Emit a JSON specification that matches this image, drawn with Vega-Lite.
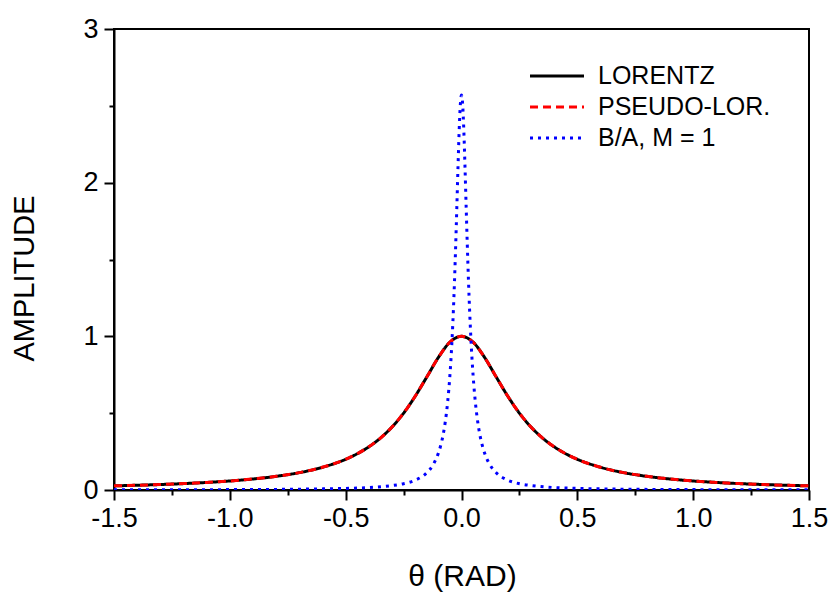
{
  "$schema": "https://vega.github.io/schema/vega-lite/v6.json",
  "width": 695,
  "height": 461,
  "autosize": {"type": "none"},
  "padding": {"left": 114, "top": 29, "right": 21, "bottom": 102},
  "background": "white",
  "config": {
    "view": {"stroke": "black", "strokeWidth": 2},
    "font": "Liberation Sans",
    "axis": {"grid": false, "domainColor": "black", "domainWidth": 2, "tickColor": "black", "tickWidth": 2, "labelColor": "black", "titleColor": "black", "labelFont": "Liberation Sans", "titleFont": "Liberation Sans", "titleFontWeight": "normal"}
  },
  "data": {"values": [
    {"x": -1.5, "y": 0.027, "s": "LORENTZ"},
    {"x": -1.4, "y": 0.0309, "s": "LORENTZ"},
    {"x": -1.3, "y": 0.0357, "s": "LORENTZ"},
    {"x": -1.2, "y": 0.0416, "s": "LORENTZ"},
    {"x": -1.1, "y": 0.0491, "s": "LORENTZ"},
    {"x": -1.0, "y": 0.0588, "s": "LORENTZ"},
    {"x": -0.9, "y": 0.0716, "s": "LORENTZ"},
    {"x": -0.8, "y": 0.089, "s": "LORENTZ"},
    {"x": -0.7, "y": 0.113, "s": "LORENTZ"},
    {"x": -0.6, "y": 0.148, "s": "LORENTZ"},
    {"x": -0.5, "y": 0.2, "s": "LORENTZ"},
    {"x": -0.45, "y": 0.236, "s": "LORENTZ"},
    {"x": -0.4, "y": 0.281, "s": "LORENTZ"},
    {"x": -0.35, "y": 0.338, "s": "LORENTZ"},
    {"x": -0.3, "y": 0.41, "s": "LORENTZ"},
    {"x": -0.25, "y": 0.5, "s": "LORENTZ"},
    {"x": -0.2, "y": 0.61, "s": "LORENTZ"},
    {"x": -0.15, "y": 0.735, "s": "LORENTZ"},
    {"x": -0.1, "y": 0.862, "s": "LORENTZ"},
    {"x": -0.05, "y": 0.962, "s": "LORENTZ"},
    {"x": 0, "y": 1.0, "s": "LORENTZ"},
    {"x": 0.05, "y": 0.962, "s": "LORENTZ"},
    {"x": 0.1, "y": 0.862, "s": "LORENTZ"},
    {"x": 0.15, "y": 0.735, "s": "LORENTZ"},
    {"x": 0.2, "y": 0.61, "s": "LORENTZ"},
    {"x": 0.25, "y": 0.5, "s": "LORENTZ"},
    {"x": 0.3, "y": 0.41, "s": "LORENTZ"},
    {"x": 0.35, "y": 0.338, "s": "LORENTZ"},
    {"x": 0.4, "y": 0.281, "s": "LORENTZ"},
    {"x": 0.45, "y": 0.236, "s": "LORENTZ"},
    {"x": 0.5, "y": 0.2, "s": "LORENTZ"},
    {"x": 0.6, "y": 0.148, "s": "LORENTZ"},
    {"x": 0.7, "y": 0.113, "s": "LORENTZ"},
    {"x": 0.8, "y": 0.089, "s": "LORENTZ"},
    {"x": 0.9, "y": 0.0716, "s": "LORENTZ"},
    {"x": 1.0, "y": 0.0588, "s": "LORENTZ"},
    {"x": 1.1, "y": 0.0491, "s": "LORENTZ"},
    {"x": 1.2, "y": 0.0416, "s": "LORENTZ"},
    {"x": 1.3, "y": 0.0357, "s": "LORENTZ"},
    {"x": 1.4, "y": 0.0309, "s": "LORENTZ"},
    {"x": 1.5, "y": 0.027, "s": "LORENTZ"},

    {"x": -1.5, "y": 0.027, "s": "PSEUDO-LOR."},
    {"x": -1.4, "y": 0.0309, "s": "PSEUDO-LOR."},
    {"x": -1.3, "y": 0.0357, "s": "PSEUDO-LOR."},
    {"x": -1.2, "y": 0.0416, "s": "PSEUDO-LOR."},
    {"x": -1.1, "y": 0.0491, "s": "PSEUDO-LOR."},
    {"x": -1.0, "y": 0.0588, "s": "PSEUDO-LOR."},
    {"x": -0.9, "y": 0.0716, "s": "PSEUDO-LOR."},
    {"x": -0.8, "y": 0.089, "s": "PSEUDO-LOR."},
    {"x": -0.7, "y": 0.113, "s": "PSEUDO-LOR."},
    {"x": -0.6, "y": 0.148, "s": "PSEUDO-LOR."},
    {"x": -0.5, "y": 0.2, "s": "PSEUDO-LOR."},
    {"x": -0.45, "y": 0.236, "s": "PSEUDO-LOR."},
    {"x": -0.4, "y": 0.281, "s": "PSEUDO-LOR."},
    {"x": -0.35, "y": 0.338, "s": "PSEUDO-LOR."},
    {"x": -0.3, "y": 0.41, "s": "PSEUDO-LOR."},
    {"x": -0.25, "y": 0.5, "s": "PSEUDO-LOR."},
    {"x": -0.2, "y": 0.61, "s": "PSEUDO-LOR."},
    {"x": -0.15, "y": 0.735, "s": "PSEUDO-LOR."},
    {"x": -0.1, "y": 0.862, "s": "PSEUDO-LOR."},
    {"x": -0.05, "y": 0.962, "s": "PSEUDO-LOR."},
    {"x": 0, "y": 1.0, "s": "PSEUDO-LOR."},
    {"x": 0.05, "y": 0.962, "s": "PSEUDO-LOR."},
    {"x": 0.1, "y": 0.862, "s": "PSEUDO-LOR."},
    {"x": 0.15, "y": 0.735, "s": "PSEUDO-LOR."},
    {"x": 0.2, "y": 0.61, "s": "PSEUDO-LOR."},
    {"x": 0.25, "y": 0.5, "s": "PSEUDO-LOR."},
    {"x": 0.3, "y": 0.41, "s": "PSEUDO-LOR."},
    {"x": 0.35, "y": 0.338, "s": "PSEUDO-LOR."},
    {"x": 0.4, "y": 0.281, "s": "PSEUDO-LOR."},
    {"x": 0.45, "y": 0.236, "s": "PSEUDO-LOR."},
    {"x": 0.5, "y": 0.2, "s": "PSEUDO-LOR."},
    {"x": 0.6, "y": 0.148, "s": "PSEUDO-LOR."},
    {"x": 0.7, "y": 0.113, "s": "PSEUDO-LOR."},
    {"x": 0.8, "y": 0.089, "s": "PSEUDO-LOR."},
    {"x": 0.9, "y": 0.0716, "s": "PSEUDO-LOR."},
    {"x": 1.0, "y": 0.0588, "s": "PSEUDO-LOR."},
    {"x": 1.1, "y": 0.0491, "s": "PSEUDO-LOR."},
    {"x": 1.2, "y": 0.0416, "s": "PSEUDO-LOR."},
    {"x": 1.3, "y": 0.0357, "s": "PSEUDO-LOR."},
    {"x": 1.4, "y": 0.0309, "s": "PSEUDO-LOR."},
    {"x": 1.5, "y": 0.027, "s": "PSEUDO-LOR."},

    {"x": -1.5, "y": 0.0012, "s": "B/A, M = 1"},
    {"x": -1.0, "y": 0.0026, "s": "B/A, M = 1"},
    {"x": -0.7, "y": 0.0054, "s": "B/A, M = 1"},
    {"x": -0.5, "y": 0.0105, "s": "B/A, M = 1"},
    {"x": -0.4, "y": 0.016, "s": "B/A, M = 1"},
    {"x": -0.3, "y": 0.029, "s": "B/A, M = 1"},
    {"x": -0.25, "y": 0.041, "s": "B/A, M = 1"},
    {"x": -0.2, "y": 0.064, "s": "B/A, M = 1"},
    {"x": -0.15, "y": 0.112, "s": "B/A, M = 1"},
    {"x": -0.12, "y": 0.171, "s": "B/A, M = 1"},
    {"x": -0.1, "y": 0.239, "s": "B/A, M = 1"},
    {"x": -0.09, "y": 0.288, "s": "B/A, M = 1"},
    {"x": -0.08, "y": 0.354, "s": "B/A, M = 1"},
    {"x": -0.07, "y": 0.444, "s": "B/A, M = 1"},
    {"x": -0.06, "y": 0.569, "s": "B/A, M = 1"},
    {"x": -0.05, "y": 0.747, "s": "B/A, M = 1"},
    {"x": -0.045, "y": 0.863, "s": "B/A, M = 1"},
    {"x": -0.04, "y": 1.003, "s": "B/A, M = 1"},
    {"x": -0.035, "y": 1.17, "s": "B/A, M = 1"},
    {"x": -0.03, "y": 1.368, "s": "B/A, M = 1"},
    {"x": -0.025, "y": 1.596, "s": "B/A, M = 1"},
    {"x": -0.02, "y": 1.848, "s": "B/A, M = 1"},
    {"x": -0.015, "y": 2.107, "s": "B/A, M = 1"},
    {"x": -0.01, "y": 2.341, "s": "B/A, M = 1"},
    {"x": -0.005, "y": 2.509, "s": "B/A, M = 1"},
    {"x": 0, "y": 2.57, "s": "B/A, M = 1"},
    {"x": 0.005, "y": 2.509, "s": "B/A, M = 1"},
    {"x": 0.01, "y": 2.341, "s": "B/A, M = 1"},
    {"x": 0.015, "y": 2.107, "s": "B/A, M = 1"},
    {"x": 0.02, "y": 1.848, "s": "B/A, M = 1"},
    {"x": 0.025, "y": 1.596, "s": "B/A, M = 1"},
    {"x": 0.03, "y": 1.368, "s": "B/A, M = 1"},
    {"x": 0.035, "y": 1.17, "s": "B/A, M = 1"},
    {"x": 0.04, "y": 1.003, "s": "B/A, M = 1"},
    {"x": 0.045, "y": 0.863, "s": "B/A, M = 1"},
    {"x": 0.05, "y": 0.747, "s": "B/A, M = 1"},
    {"x": 0.06, "y": 0.569, "s": "B/A, M = 1"},
    {"x": 0.07, "y": 0.444, "s": "B/A, M = 1"},
    {"x": 0.08, "y": 0.354, "s": "B/A, M = 1"},
    {"x": 0.09, "y": 0.288, "s": "B/A, M = 1"},
    {"x": 0.1, "y": 0.239, "s": "B/A, M = 1"},
    {"x": 0.12, "y": 0.171, "s": "B/A, M = 1"},
    {"x": 0.15, "y": 0.112, "s": "B/A, M = 1"},
    {"x": 0.2, "y": 0.064, "s": "B/A, M = 1"},
    {"x": 0.25, "y": 0.041, "s": "B/A, M = 1"},
    {"x": 0.3, "y": 0.029, "s": "B/A, M = 1"},
    {"x": 0.4, "y": 0.016, "s": "B/A, M = 1"},
    {"x": 0.5, "y": 0.0105, "s": "B/A, M = 1"},
    {"x": 0.7, "y": 0.0054, "s": "B/A, M = 1"},
    {"x": 1.0, "y": 0.0026, "s": "B/A, M = 1"},
    {"x": 1.5, "y": 0.0012, "s": "B/A, M = 1"}
  ]},
  "mark": {"type": "line", "strokeWidth": 3, "interpolate": "monotone", "clip": true},
  "encoding": {
    "x": {
      "field": "x", "type": "quantitative",
      "scale": {"domain": [-1.5, 1.5], "nice": false, "zero": false},
      "axis": {
        "title": "θ (RAD)",
        "values": [-1.5, -1.25, -1.0, -0.75, -0.5, -0.25, 0, 0.25, 0.5, 0.75, 1.0, 1.25, 1.5],
        "labelExpr": "abs(datum.value*2 - round(datum.value*2)) > 0.01 ? '' : replace(format(datum.value, '.1f'), '−', '-')",
        "tickSize": {"condition": {"test": "abs(datum.value*2 - round(datum.value*2)) > 0.01", "value": 5}, "value": 10},
        "labelFlush": false,
        "labelOverlap": false,
        "labelFontSize": 27,
        "labelPadding": 5,
        "titleFontSize": 30,
        "titleX": 348,
        "titleY": 95,
        "titleBaseline": "alphabetic"
      }
    },
    "y": {
      "field": "y", "type": "quantitative",
      "scale": {"domain": [0, 3], "nice": false},
      "axis": {
        "title": "AMPLITUDE",
        "values": [0, 0.5, 1, 1.5, 2, 2.5, 3],
        "labelExpr": "datum.value % 1 != 0 ? '' : format(datum.value, 'd')",
        "tickSize": {"condition": {"test": "datum.value % 1 != 0", "value": 5}, "value": 10},
        "labelOverlap": false,
        "labelFontSize": 27,
        "labelPadding": 6,
        "titleFontSize": 29,
        "titleAngle": 270,
        "titleX": -90,
        "titleY": 249,
        "titleBaseline": "middle",
        "titleAlign": "center"
      }
    },
    "color": {
      "field": "s", "type": "nominal",
      "scale": {"domain": ["LORENTZ", "PSEUDO-LOR.", "B/A, M = 1"], "range": ["#000000", "#ff0000", "#0000ff"]},
      "legend": {
        "title": null,
        "orient": "none",
        "legendX": 428,
        "legendY": 32,
        "symbolType": "M-2,0H2",
        "symbolSize": 729,
        "symbolStrokeWidth": 3,
        "labelFontSize": 25,
        "labelLimit": 400,
        "labelColor": "black",
        "labelFont": "Liberation Sans",
        "labelOffset": 26,
        "rowPadding": 3
      }
    },
    "strokeDash": {
      "field": "s", "type": "nominal",
      "scale": {"domain": ["LORENTZ", "PSEUDO-LOR.", "B/A, M = 1"], "range": [[1, 0], [8, 5], [3, 5]]},
      "legend": {
        "title": null,
        "orient": "none",
        "legendX": 428,
        "legendY": 32,
        "symbolType": "M-2,0H2",
        "symbolSize": 729,
        "symbolStrokeWidth": 3,
        "labelFontSize": 25,
        "labelLimit": 400,
        "labelColor": "black",
        "labelFont": "Liberation Sans",
        "labelOffset": 26,
        "rowPadding": 3
      }
    }
  }
}
